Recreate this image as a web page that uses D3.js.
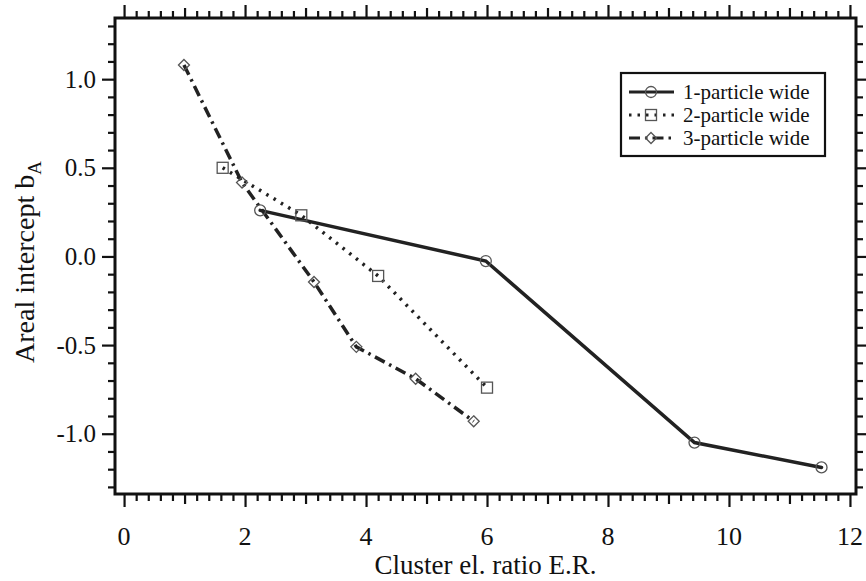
<!DOCTYPE html>
<html>
<head>
<meta charset="utf-8">
<script src="https://cdn.jsdelivr.net/npm/d3@7"></script>
<style>
  body { margin: 0; background: #fff; }
  svg { display: block; }
</style>
</head>
<body>
<svg id="chart" width="866" height="581"></svg>
<script>
// ---- data ----
const seriesNames = ["1-particle wide", "2-particle wide", "3-particle wide"];
const s1X = [2.25, 5.98, 9.43, 11.53];
const s1Y = [0.26, -0.026, -1.05, -1.19];
const s2X = [1.63, 2.93, 4.20, 6.0];
const s2Y = [0.50, 0.232, -0.11, -0.74];
const s3X = [0.99, 1.95, 3.14, 3.84, 4.82, 5.78];
const s3Y = [1.08, 0.417, -0.144, -0.51, -0.69, -0.93];
const xTickLabels = [0, 2, 4, 6, 8, 10, 12];
const yTickLabels = [-1.0, -0.5, 0.0, 0.5, 1.0];
const xTitle = "Cluster el. ratio E.R.";
const yTitle = "Areal intercept b";
const yTitleSub = "A";

const FONT = "'Liberation Serif', 'Times New Roman', serif";
const svg = d3.select("#chart");
const L = 115, R = 856, T = 18, B = 494;
const x = d3.scaleLinear().domain([-0.15, 12.1]).range([L, R]);
const y = d3.scaleLinear().domain([-1.34, 1.345]).range([B, T]);

const series = [
  { name: seriesNames[0], pts: s1X.map((v, i) => [v, s1Y[i]]), dash: null, marker: "circle" },
  { name: seriesNames[1], pts: s2X.map((v, i) => [v, s2Y[i]]), dash: "2.5,6", marker: "square" },
  { name: seriesNames[2], pts: s3X.map((v, i) => [v, s3Y[i]]), dash: "11,5,2.5,5", marker: "diamond" }
];

// ticks
const xMinor = d3.range(0, 12.01, 0.2).map(v => +v.toFixed(2));
const yMinor = d3.range(-1.3, 1.301, 0.1).map(v => +v.toFixed(2));
function xLen(v) {
  if (Math.abs(v / 2 - Math.round(v / 2)) < 1e-6) return 13;
  if (Math.abs(v - Math.round(v)) < 1e-6) return 10;
  return 7;
}
function yLen(v) {
  if (Math.abs(v / 0.5 - Math.round(v / 0.5)) < 1e-6) return 13;
  return 7;
}

const axB = d3.axisBottom(x).tickValues(xMinor).tickFormat("").tickSizeOuter(0);
const axT = d3.axisTop(x).tickValues(xMinor).tickFormat("").tickSizeOuter(0);
const axL = d3.axisLeft(y).tickValues(yMinor).tickFormat("").tickSizeOuter(0);
const axR = d3.axisRight(y).tickValues(yMinor).tickFormat("").tickSizeOuter(0);

function styleAxis(g, lenFn, dir) {
  g.select(".domain").remove();
  g.selectAll(".tick line").attr("stroke", "#111").attr("stroke-width", 2.2)
    .each(function(d) {
      const len = lenFn(d);
      const el = d3.select(this);
      if (dir === "b") el.attr("y2", len);
      if (dir === "t") el.attr("y2", -len);
      if (dir === "l") el.attr("x2", -len);
      if (dir === "r") el.attr("x2", len);
    });
}
svg.append("g").attr("transform", `translate(0,${B})`).call(axB).call(g => styleAxis(g, xLen, "b"));
svg.append("g").attr("transform", `translate(0,${T})`).call(axT).call(g => styleAxis(g, xLen, "t"));
svg.append("g").attr("transform", `translate(${L},0)`).call(axL).call(g => styleAxis(g, yLen, "l"));
svg.append("g").attr("transform", `translate(${R},0)`).call(axR).call(g => styleAxis(g, yLen, "r"));

// frame
svg.append("rect").attr("x", L).attr("y", T).attr("width", R - L).attr("height", B - T)
  .attr("fill", "none").attr("stroke", "#111").attr("stroke-width", 3);

// tick labels
svg.append("g").selectAll("text").data(xTickLabels).join("text")
  .attr("x", d => x(d)).attr("y", 545).attr("text-anchor", "middle")
  .attr("font-family", FONT).attr("fill", "#111")
  .attr("font-size", 26).text(d => d);
svg.append("g").selectAll("text").data(yTickLabels).join("text")
  .attr("x", 96).attr("y", d => y(d) + 8.5).attr("text-anchor", "end")
  .attr("font-family", FONT).attr("fill", "#111")
  .attr("font-size", 25).text(d => d.toFixed(1));

// titles
svg.append("text").attr("x", (L + R) / 2).attr("y", 574).attr("text-anchor", "middle")
  .attr("font-family", FONT).attr("fill", "#111")
  .attr("font-size", 27).text(xTitle);
const yt = svg.append("text").attr("transform", `translate(34,${(T + B) / 2 + 6}) rotate(-90)`)
  .attr("font-family", FONT).attr("fill", "#111")
  .attr("text-anchor", "middle").attr("font-size", 28);
yt.append("tspan").text(yTitle);
yt.append("tspan").attr("font-size", 19).attr("dy", 7).text(yTitleSub);

// lines
const line = d3.line().x(d => x(d[0])).y(d => y(d[1]));
const plot = svg.append("g");
series.forEach(s => {
  plot.append("path").datum(s.pts).attr("d", line).attr("fill", "none")
    .attr("stroke", "#222").attr("stroke-width", 3.5)
    .attr("stroke-dasharray", s.dash).attr("stroke-linecap", s.dash ? "butt" : "round");
});

function drawMarker(g, type, cx, cy) {
  const st = { fill: "none", stroke: "#555", "stroke-width": 1.3 };
  let m;
  if (type === "circle") m = g.append("circle").attr("cx", cx).attr("cy", cy).attr("r", 5.5);
  else if (type === "square") m = g.append("rect").attr("x", cx - 5.5).attr("y", cy - 5.5).attr("width", 11).attr("height", 11);
  else m = g.append("path").attr("d", `M${cx},${cy - 5.5}L${cx + 5.5},${cy}L${cx},${cy + 5.5}L${cx - 5.5},${cy}Z`);
  Object.entries(st).forEach(([k, v]) => m.attr(k, v));
}
series.forEach(s => {
  s.pts.forEach(p => drawMarker(plot, s.marker, x(p[0]), y(p[1])));
});

// legend
const lgX = 621, lgY = 73, lgW = 204, lgH = 83;
const lg = svg.append("g");
lg.append("rect").attr("x", lgX).attr("y", lgY).attr("width", lgW).attr("height", lgH)
  .attr("fill", "#fff").attr("stroke", "#111").attr("stroke-width", 2.2);
series.forEach((s, i) => {
  const cy = lgY + 19 + i * 23;
  lg.append("line").attr("x1", lgX + 8).attr("x2", lgX + 53).attr("y1", cy).attr("y2", cy)
    .attr("stroke", "#222").attr("stroke-width", 3).attr("stroke-dasharray", s.dash);
  drawMarker(lg, s.marker, lgX + 30, cy);
  lg.append("text").attr("x", lgX + 62).attr("y", cy + 7).attr("font-size", 21)
    .attr("font-family", FONT).attr("fill", "#111").text(s.name);
});
</script>
</body>
</html>
